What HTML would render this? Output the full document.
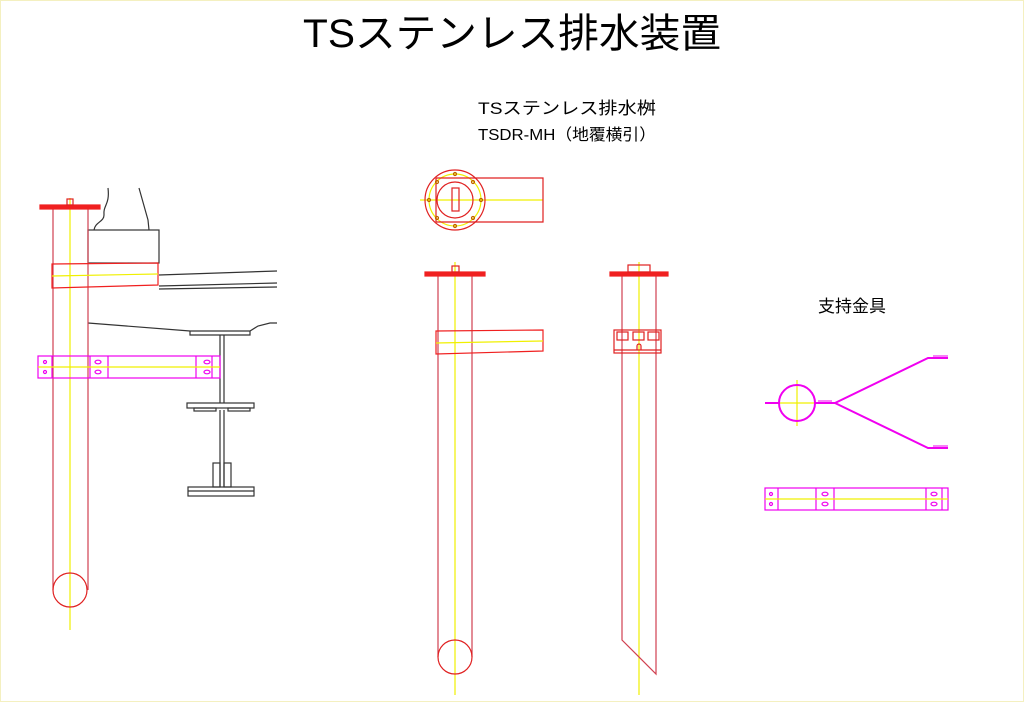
<!DOCTYPE html>
<html><head><meta charset="utf-8"><style>
html,body{margin:0;padding:0;background:#fff;}
svg{display:block;}
text{font-family:"Liberation Sans","Noto Sans CJK JP",sans-serif;fill:#000;}
</style></head><body>
<svg width="1024" height="702" viewBox="0 0 1024 702" xmlns="http://www.w3.org/2000/svg">
<rect x="0.5" y="0.5" width="1023" height="701" fill="#fff" stroke="#f4f0c0" stroke-width="1"/>
<text x="512" y="47" text-anchor="middle" font-size="40" textLength="418" lengthAdjust="spacingAndGlyphs">TSステンレス排水装置</text>
<text x="567" y="114" text-anchor="middle" font-size="17" textLength="178" lengthAdjust="spacingAndGlyphs">TSステンレス排水桝</text>
<text x="567" y="140" text-anchor="middle" font-size="16" textLength="178" lengthAdjust="spacingAndGlyphs">TSDR-MH（地覆横引）</text>
<text x="852" y="312" text-anchor="middle" font-size="17">支持金具</text>

<g fill="none" stroke-width="1.2">
<!-- left assembly -->
<line x1="70" y1="198" x2="70" y2="630" stroke="#f0f000"/>
<path d="M108 188 C110 205 103 205 104 215 C104 222 95 222 94 230" stroke="#333"/>
<path d="M139 188 L148 220 L149 230" stroke="#333"/>
<rect x="88" y="230" width="71" height="33" stroke="#333"/>
<path d="M159 275 L277 271 M159 286 L277 283 M159 289 L277 287" stroke="#333"/>
<path d="M88 323 L190 331 L250 331 L258 326 L270 323 L277 323" stroke="#333"/>
<path d="M190 331 L190 335 L250 335 L250 331" stroke="#333"/>
<path d="M220 335 L220 403 M224 335 L224 403" stroke="#333"/>
<rect x="187" y="403" width="67" height="5" stroke="#333"/>
<rect x="194" y="408" width="22" height="3" stroke="#333"/>
<rect x="228" y="408" width="22" height="3" stroke="#333"/>
<path d="M220 410 L220 487 M224 410 L224 487" stroke="#333"/>
<rect x="213" y="463" width="7" height="24" stroke="#333"/>
<rect x="224" y="463" width="7" height="24" stroke="#333"/>
<rect x="188" y="487" width="66" height="9" stroke="#333"/>
<line x1="188" y1="491" x2="254" y2="491" stroke="#333"/>
<line x1="53" y1="207" x2="53" y2="590" stroke="#d04050"/>
<line x1="88" y1="207" x2="88" y2="590" stroke="#d04050"/>
<circle cx="70" cy="590" r="17" stroke="#e02020"/>
<rect x="40" y="205" width="60" height="4" fill="#f02020" stroke="#f02020"/>
<rect x="67" y="199" width="6" height="6" stroke="#e02020"/>
<path d="M52 264 L158 263 L158 285 L52 288 Z" stroke="#f02020"/>
<line x1="52" y1="276" x2="158" y2="274" stroke="#f0f000"/>
<g stroke="#f000f0">
<rect x="38" y="356" width="182" height="22"/>
<path d="M52 356 V378 M90 356 V378 M108 356 V378 M196 356 V378 M212 356 V378"/>
<circle cx="45" cy="362" r="1.5"/><circle cx="45" cy="372" r="1.5"/>
<ellipse cx="98" cy="362" rx="3" ry="1.8"/><ellipse cx="98" cy="372" rx="3" ry="1.8"/>
<ellipse cx="207" cy="362" rx="3" ry="1.8"/><ellipse cx="207" cy="372" rx="3" ry="1.8"/>
</g>
<line x1="38" y1="367" x2="220" y2="367" stroke="#f0f000"/>

<!-- plan view -->
<line x1="420" y1="200" x2="543" y2="200" stroke="#f0f000"/>
<circle cx="455" cy="200" r="26" stroke="#f0f000"/>
<circle cx="455" cy="200" r="30" stroke="#e02020"/>
<circle cx="455" cy="200" r="18" stroke="#e02020"/>
<rect x="452" y="188" width="7" height="23" stroke="#e02020"/>
<path d="M436 178 L543 178 L543 222 L436 222" stroke="#e02020"/>
<line x1="436" y1="178" x2="436" y2="222" stroke="#e02020"/>
<g stroke="#c06000">
<circle cx="455" cy="174" r="1.5"/><circle cx="455" cy="226" r="1.5"/>
<circle cx="429" cy="200" r="1.5"/><circle cx="481" cy="200" r="1.5"/>
<circle cx="437" cy="182" r="1.5"/><circle cx="473" cy="182" r="1.5"/>
<circle cx="437" cy="218" r="1.5"/><circle cx="473" cy="218" r="1.5"/>
</g>

<!-- middle elevation -->
<line x1="455" y1="262" x2="455" y2="695" stroke="#f0f000"/>
<line x1="438" y1="276" x2="438" y2="657" stroke="#d04050"/>
<line x1="472" y1="276" x2="472" y2="657" stroke="#d04050"/>
<circle cx="455" cy="657" r="17" stroke="#e02020"/>
<rect x="425" y="272" width="60" height="4" fill="#f02020" stroke="#f02020"/>
<rect x="452" y="266" width="7" height="6" stroke="#e02020"/>
<path d="M436 331 L543 330 L543 351 L436 354 Z" stroke="#f02020"/>
<line x1="436" y1="343" x2="543" y2="341" stroke="#f0f000"/>

<!-- right elevation -->
<line x1="639" y1="262" x2="639" y2="695" stroke="#f0f000"/>
<path d="M622 276 L622 640 L656 674 L656 276" stroke="#d04050"/>
<rect x="610" y="272" width="58" height="4" fill="#f02020" stroke="#f02020"/>
<rect x="628" y="265" width="22" height="7" stroke="#e02020"/>
<rect x="614" y="330" width="47" height="23" stroke="#e02020"/>
<rect x="617" y="332" width="11" height="8" stroke="#e02020"/>
<rect x="633" y="332" width="11" height="8" stroke="#e02020"/>
<rect x="648" y="332" width="11" height="8" stroke="#e02020"/>
<line x1="614" y1="350" x2="661" y2="350" stroke="#e02020"/>
<path d="M637 350 V346 A2 2 0 0 1 641 346 V350" stroke="#e02020"/>

<!-- bracket -->
<path d="M797 380 V426 M778 403 H815" stroke="#f0f000"/>
<circle cx="797" cy="403" r="18" stroke="#f000f0" stroke-width="2"/>
<path d="M765 403 H779 M815 403 H835 L928 358 H948 M835 403 L928 448 H948" stroke="#f000f0" stroke-width="2"/>
<path d="M818 401 H832 M933 356 H948 M933 446 H948" stroke="#f000f0" stroke-width="1"/>
<g stroke="#f000f0">
<rect x="765" y="488" width="183" height="22"/>
<path d="M778 488 V510 M816 488 V510 M834 488 V510 M926 488 V510 M942 488 V510"/>
<circle cx="771" cy="494" r="1.5"/><circle cx="771" cy="504" r="1.5"/>
<ellipse cx="825" cy="494" rx="3" ry="1.8"/><ellipse cx="825" cy="504" rx="3" ry="1.8"/>
<ellipse cx="934" cy="494" rx="3" ry="1.8"/><ellipse cx="934" cy="504" rx="3" ry="1.8"/>
</g>
<line x1="765" y1="499" x2="948" y2="499" stroke="#f0f000"/>
</g>
</svg>
</body></html>
